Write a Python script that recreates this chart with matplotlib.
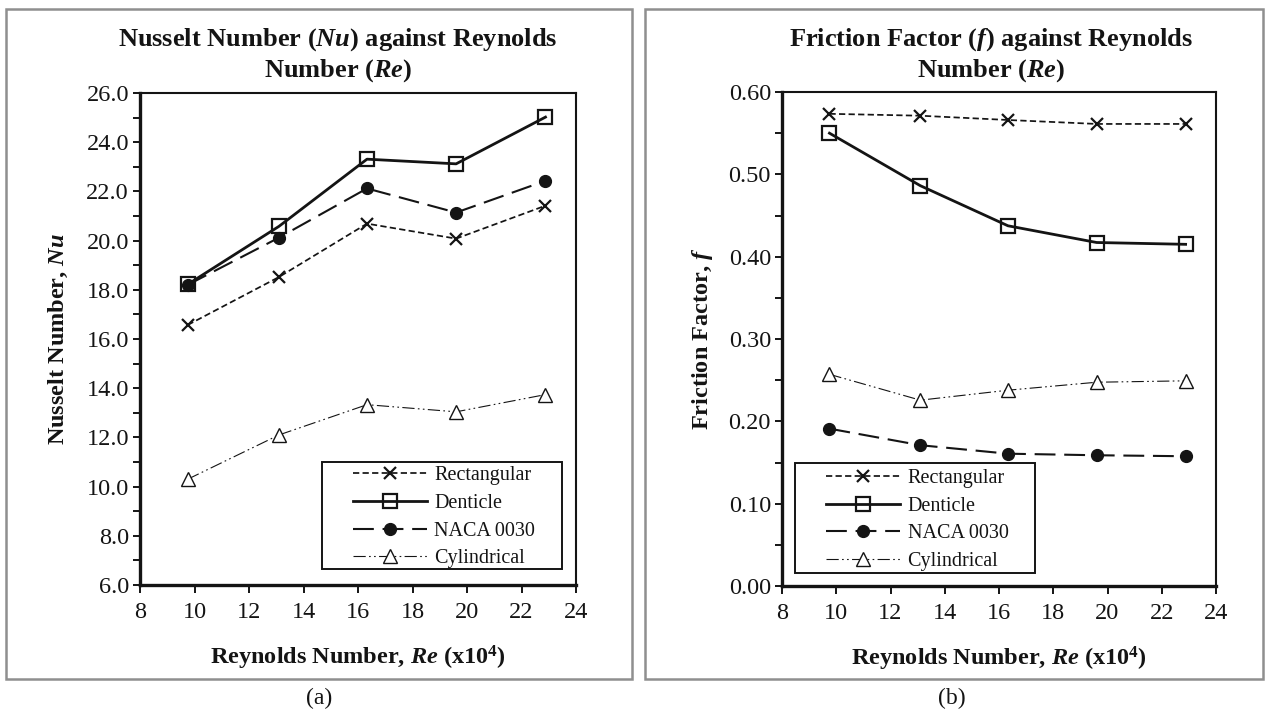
import matplotlib
matplotlib.use("Agg")
import matplotlib.pyplot as plt
import matplotlib.lines as mlines
from matplotlib.legend_handler import HandlerLine2D
from matplotlib.patches import Rectangle
from matplotlib.ticker import MultipleLocator, FormatStrFormatter

plt.rcParams['font.family'] = ['Liberation Serif', 'DejaVu Serif']
plt.rcParams['mathtext.fontset'] = 'custom'
plt.rcParams['mathtext.rm'] = 'Liberation Serif'
plt.rcParams['mathtext.it'] = 'Liberation Serif:italic'
plt.rcParams['mathtext.bf'] = 'Liberation Serif:bold'
plt.rcParams['mathtext.bfit'] = 'Liberation Serif:bold:italic'

# ---- data ----
reynolds = [9.75, 13.1, 16.33, 19.6, 22.88]
series_names = ["Rectangular", "Denticle", "NACA 0030", "Cylindrical"]
nu_rectangular = [16.57, 18.52, 20.69, 20.08, 21.42]
nu_denticle = [18.22, 20.58, 23.31, 23.12, 25.02]
nu_naca = [18.2, 20.12, 22.12, 21.14, 22.43]
nu_cylindrical = [10.3, 12.1, 13.33, 13.04, 13.74]
f_rectangular = [0.5735, 0.5712, 0.5660, 0.5612, 0.5612]
f_denticle = [0.5500, 0.4862, 0.4375, 0.4172, 0.4150]
f_naca = [0.1911, 0.1710, 0.1607, 0.1588, 0.1576]
f_cylindrical = [0.2571, 0.2257, 0.2378, 0.2475, 0.2492]

W, H = 1269, 718
fig = plt.figure(figsize=(W / 100, H / 100), dpi=100)
fig.patch.set_facecolor('white')

INK = '#141414'
styles = [
    dict(ls=(0, (3.6, 1.9)), lw=1.25, marker='x', ms=9, mew=1.6, mfc=INK, mec=INK, color=INK),
    dict(ls='-', lw=2.0, marker='s', ms=9.5, mew=1.6, mfc='none', mec=INK, color=INK),
    dict(ls=(0, (10, 4.2)), lw=1.5, marker='o', ms=8.5, mew=1.0, mfc=INK, mec=INK, color=INK),
    dict(ls=(0, (11, 3, 1.5, 3, 1.5, 3)), lw=0.8, marker='^', ms=9.5, mew=1.0, mfc='white', mec=INK, color=INK),
]

def px_rect(x0, y0, x1, y1):
    return [x0 / W, 1 - y1 / H, (x1 - x0) / W, (y1 - y0) / H]

# panel frames
for (x0, x1) in [(6, 632), (645, 1263)]:
    fig.patches.append(Rectangle((x0 / W, 1 - 679 / H), (x1 - x0) / W, (679 - 9) / H,
                                 transform=fig.transFigure, fill=False,
                                 edgecolor='#8f8f8f', lw=1.8, zorder=0))

def style_axes(ax, ymin, ymax, ymaj, ymin_step, fmt):
    ax.set_xlim(8, 24)
    ax.set_ylim(ymin, ymax)
    ax.xaxis.set_major_locator(MultipleLocator(2))
    ax.yaxis.set_major_locator(MultipleLocator(ymaj))
    ax.yaxis.set_minor_locator(MultipleLocator(ymin_step))
    ax.yaxis.set_major_formatter(FormatStrFormatter(fmt))
    for side in ['left', 'bottom']:
        ax.spines[side].set_linewidth(2.4)
        ax.spines[side].set_color(INK)
    for side in ['top', 'right']:
        ax.spines[side].set_linewidth(1.5)
        ax.spines[side].set_color(INK)
    ax.tick_params(axis='both', which='both', direction='out', color=INK, width=1.4,
                   labelsize=17.5, labelcolor=INK)
    ax.tick_params(axis='y', which='major', length=5, pad=3)
    ax.tick_params(axis='y', which='minor', length=5)
    ax.tick_params(axis='x', which='major', length=6, pad=6)
    ax.tick_params(axis='x', which='minor', length=0)

def draw(ax, data):
    for name, vals, st in zip(series_names, data, styles):
        ax.plot(reynolds, vals, label=name, clip_on=False, **st)

def add_legend(ax, box):
    x0, y0, x1, y1 = box
    ax.add_patch(Rectangle((x0, y0), x1 - x0, y1 - y0, transform=ax.transAxes,
                           fill=True, facecolor='white', edgecolor=INK, lw=1.4, zorder=5))
    leg = ax.legend(loc='center', bbox_to_anchor=((x0 + x1) / 2 + 0.005, (y0 + y1) / 2 - 0.004),
                    frameon=False, fontsize=14.5, handlelength=3.7, handletextpad=0.35,
                    labelspacing=0.42, borderpad=0.0, numpoints=1,
                    handler_map={mlines.Line2D: HandlerLine2D()})
    leg.set_zorder(6)
    for t in leg.get_texts():
        t.set_color(INK)

# ---- left panel ----
ax1 = fig.add_axes(px_rect(140, 93, 576, 585))
draw(ax1, [nu_rectangular, nu_denticle, nu_naca, nu_cylindrical])
style_axes(ax1, 6, 26, 2, 1, '%.1f')
add_legend(ax1, (0.417, 0.033, 0.968, 0.2505))
ax1.set_xlabel(r'Reynolds Number, $\mathbfit{Re}$ (x10$^{\mathbf{4}}$)', fontsize=17.5,
               fontweight='bold', labelpad=15, color=INK)
ax1.set_ylabel(r'Nusselt Number, $\mathbfit{Nu}$', fontsize=17.5, fontweight='bold',
               labelpad=12, color=INK)

# ---- right panel ----
ax2 = fig.add_axes(px_rect(782, 92, 1216, 586))
draw(ax2, [f_rectangular, f_denticle, f_naca, f_cylindrical])
style_axes(ax2, 0, 0.6, 0.1, 0.05, '%.2f')
add_legend(ax2, (0.030, 0.026, 0.583, 0.249))
ax2.set_xlabel(r'Reynolds Number, $\mathbfit{Re}$ (x10$^{\mathbf{4}}$)', fontsize=17.5,
               fontweight='bold', labelpad=15, color=INK)
ax2.set_ylabel(r'Friction Factor, $\mathbfit{f}$', fontsize=17.5, fontweight='bold',
               labelpad=10, color=INK)

# titles
fig.text(338 / W, 1 - 55 / H,
         'Nusselt Number ($\\mathbfit{Nu}$) against Reynolds\nNumber ($\\mathbfit{Re}$)',
         ha='center', va='center', fontsize=19, fontweight='bold', linespacing=1.2, color=INK)
fig.text(991 / W, 1 - 55 / H,
         'Friction Factor ($\\mathbfit{f}$) against Reynolds\nNumber ($\\mathbfit{Re}$)',
         ha='center', va='center', fontsize=19, fontweight='bold', linespacing=1.2, color=INK)

# captions
fig.text(319 / W, 1 - 698 / H, '(a)', ha='center', va='center', fontsize=17, color=INK)
fig.text(952 / W, 1 - 698 / H, '(b)', ha='center', va='center', fontsize=17, color=INK)

fig.savefig('out.png', dpi=100, facecolor='white')
